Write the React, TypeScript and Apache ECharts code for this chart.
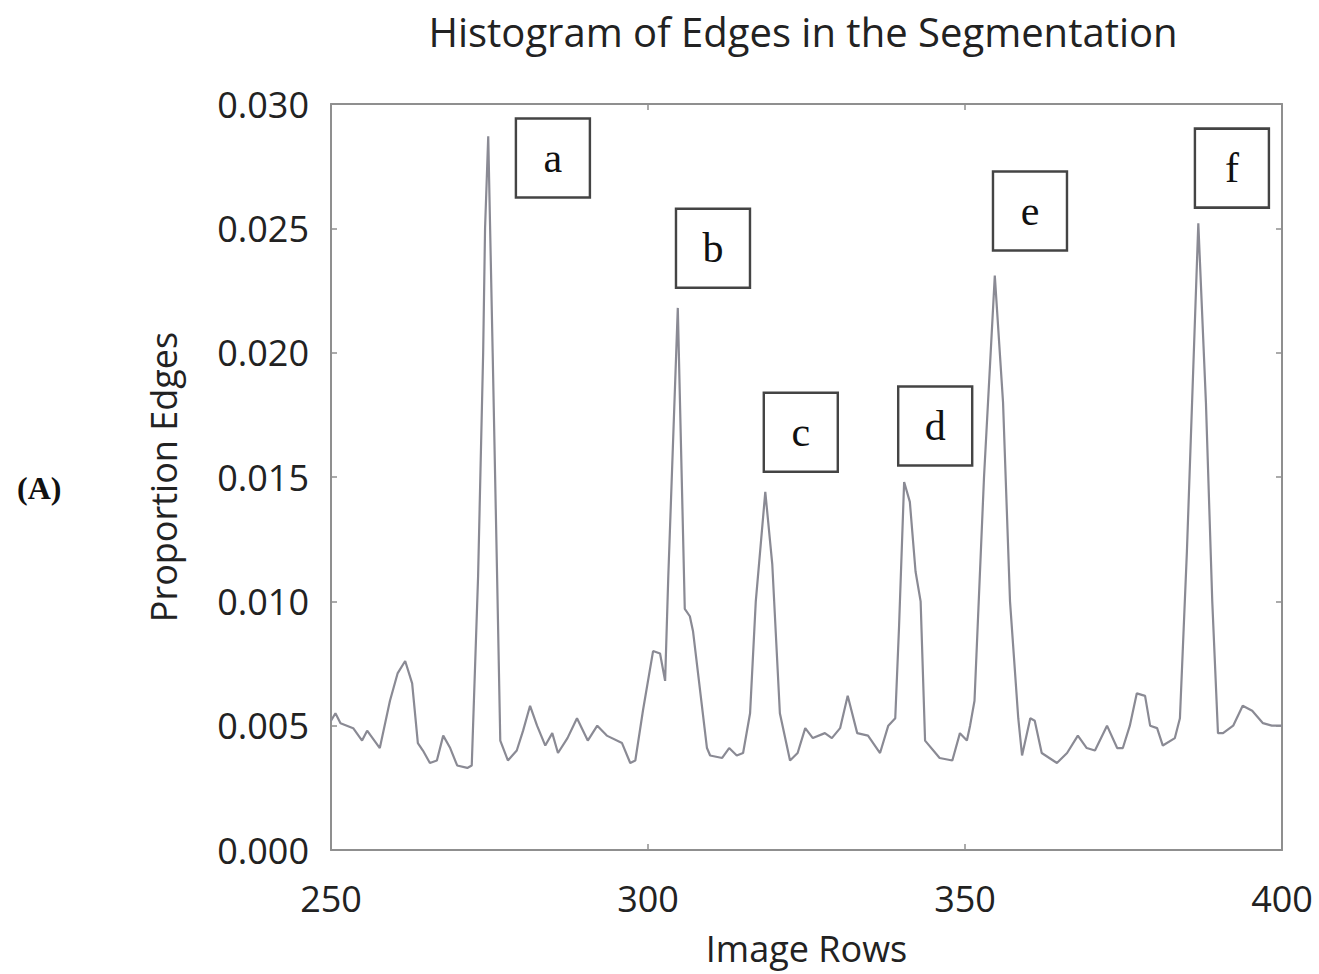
import React, { useEffect, useRef } from "react";
import * as echarts from "echarts";

const rows: number[] = [
  250, 250.7, 251.5, 253.5, 254.9, 255.7, 257.7, 259.3, 260.5, 261.7, 262.8, 263.7, 264.5, 265.6, 266.7, 267.7, 268.8, 269.9, 271.5, 272.2,
  273.2, 274.0, 274.3, 274.8, 275.5, 276.2, 276.7, 277.9, 279.3, 280.3, 281.4, 282.5, 283.8, 284.9, 285.8, 287.3, 288.8, 290.5, 292.0, 293.5,
  295.9, 297.2, 298.0, 299.2, 300.8, 301.9, 302.7, 303.2, 304.7, 305.8, 306.6, 307.1, 309.3, 309.8, 311.7, 312.8, 314.0, 315.0, 316.1, 317.0,
  318.5, 319.6, 320.8, 322.4, 323.6, 324.8, 326.0, 327.9, 329.0, 330.3, 331.5, 333.0, 334.7, 336.6, 337.9, 339.0, 339.6, 340.4, 341.3, 342.2,
  343.0, 343.7, 346.0, 348.0, 349.2, 350.3, 350.8, 351.5, 353.0, 354.7, 356.0, 357.1, 358.4, 359.0, 360.3, 361.0, 362.1, 364.5, 366.1, 367.8,
  369.2, 370.5, 372.4, 374.0, 374.9, 376.0, 377.1, 378.4, 379.2, 380.3, 381.2, 383.1, 383.9, 385.0, 386.8, 388.0, 389.0, 389.9, 390.7, 392.3,
  393.8, 395.3, 397.0, 398.4, 400.0,
];

const proportions: number[] = [
  0.0052, 0.0055, 0.0051, 0.0049, 0.0044, 0.0048, 0.0041, 0.0060, 0.0071, 0.0076, 0.0067, 0.0043, 0.0040, 0.0035, 0.0036, 0.0046, 0.0041, 0.0034, 0.0033, 0.0034,
  0.0110, 0.0200, 0.0250, 0.0287, 0.0200, 0.0110, 0.0044, 0.0036, 0.0040, 0.0048, 0.0058, 0.0050, 0.0042, 0.0047, 0.0039, 0.0045, 0.0053, 0.0044, 0.0050, 0.0046,
  0.0043, 0.0035, 0.0036, 0.0056, 0.0080, 0.0079, 0.0068, 0.0110, 0.0218, 0.0097, 0.0094, 0.0088, 0.0041, 0.0038, 0.0037, 0.0041, 0.0038, 0.0039, 0.0055, 0.0100,
  0.0144, 0.0115, 0.0055, 0.0036, 0.0039, 0.0049, 0.0045, 0.0047, 0.0045, 0.0049, 0.0062, 0.0047, 0.0046, 0.0039, 0.0050, 0.0053, 0.0090, 0.0148, 0.0140, 0.0112,
  0.0100, 0.0044, 0.0037, 0.0036, 0.0047, 0.0044, 0.0050, 0.0060, 0.0150, 0.0231, 0.0180, 0.0100, 0.0053, 0.0038, 0.0053, 0.0052, 0.0039, 0.0035, 0.0039, 0.0046,
  0.0041, 0.0040, 0.0050, 0.0041, 0.0041, 0.0050, 0.0063, 0.0062, 0.0050, 0.0049, 0.0042, 0.0045, 0.0053, 0.0120, 0.0252, 0.0180, 0.0100, 0.0047, 0.0047, 0.0050,
  0.0058, 0.0056, 0.0051, 0.0050, 0.0050,
];

const annotationLabels: string[] = ["a", "b", "c", "d", "e", "f"];
const annotationRows: number[] = [285.0, 310.25, 324.1, 345.3, 360.25, 392.1];
const annotationValues: number[] = [0.02783, 0.0242, 0.0168, 0.01705, 0.0257, 0.02742];

const xTicks = { min: 250, max: 400, interval: 50 };
const yTicks = { min: 0, max: 0.03, interval: 0.005 };

const FONT = "'Open Sans', 'Noto Sans', sans-serif";
const SERIF = "'Liberation Serif', 'DejaVu Serif', serif";

export default function App() {
  const ref = useRef<HTMLDivElement>(null);
  useEffect(() => {
    if (!ref.current) return;
    const chart = echarts.init(ref.current, undefined, { renderer: "svg" });
    const frame = { lineStyle: { color: "#8f8f8f", width: 2 } };
    const tick = { show: true, inside: true, length: 6, lineStyle: { color: "#8f8f8f", width: 1.5 } };
    chart.setOption({
      animation: false,
      backgroundColor: "#ffffff",
      title: {
        text: "Histogram of Edges in the Segmentation",
        left: 798,
        textAlign: "center",
        top: 6,
        textStyle: { fontFamily: FONT, fontSize: 40, fontWeight: "normal", color: "#222" },
      },
      graphic: [
        {
          type: "text",
          left: 17,
          top: 472,
          style: { text: "(A)", font: `bold 32px ${SERIF}`, fill: "#111" },
        },
      ],
      grid: { left: 331, right: 37, top: 104, bottom: 124, outerBoundsMode: "none", containLabel: false },
      xAxis: [
        {
          type: "value",
          ...xTicks,
          name: "Image Rows",
          nameLocation: "middle",
          nameGap: 80,
          nameTextStyle: { fontFamily: FONT, fontSize: 36, color: "#222" },
          axisLine: { show: true, onZero: false, ...frame },
          axisTick: tick,
          splitLine: { show: false },
          axisLabel: { fontFamily: FONT, fontSize: 36, color: "#222", margin: 30 },
        },
        {
          type: "value",
          position: "top",
          ...xTicks,
          axisLine: { show: true, onZero: false, ...frame },
          axisTick: tick,
          splitLine: { show: false },
          axisLabel: { show: false },
        },
      ],
      yAxis: [
        {
          type: "value",
          ...yTicks,
          name: "Proportion Edges",
          nameLocation: "middle",
          nameGap: 150,
          nameTextStyle: { fontFamily: FONT, fontSize: 36, color: "#222" },
          axisLine: { show: true, onZero: false, ...frame },
          axisTick: tick,
          splitLine: { show: false },
          axisLabel: {
            fontFamily: FONT,
            fontSize: 36,
            color: "#222",
            margin: 22,
            formatter: (v: number) => v.toFixed(3),
          },
        },
        {
          type: "value",
          position: "right",
          ...yTicks,
          axisLine: { show: true, onZero: false, ...frame },
          axisTick: tick,
          splitLine: { show: false },
          axisLabel: { show: false },
        },
      ],
      series: [
        {
          type: "line",
          data: rows.map((r, i) => [r, proportions[i]]),
          showSymbol: false,
          symbol: "none",
          lineStyle: { color: "#8a8a94", width: 2.2 },
          markPoint: {
            symbol: "rect",
            symbolSize: [74, 79],
            itemStyle: { color: "#ffffff", borderColor: "#444", borderWidth: 2.5 },
            label: {
              show: true,
              position: "inside",
              fontFamily: SERIF,
              fontSize: 42,
              color: "#111",
              formatter: (p: any) => p.name,
            },
            data: annotationLabels.map((name, i) => ({
              name,
              coord: [annotationRows[i], annotationValues[i]],
            })),
          },
        },
      ],
    });
    return () => chart.dispose();
  }, []);
  return (
    <div
      ref={ref}
      style={{ position: "fixed", left: 0, top: 0, width: 1319, height: 974, background: "#fff" }}
    />
  );
}
